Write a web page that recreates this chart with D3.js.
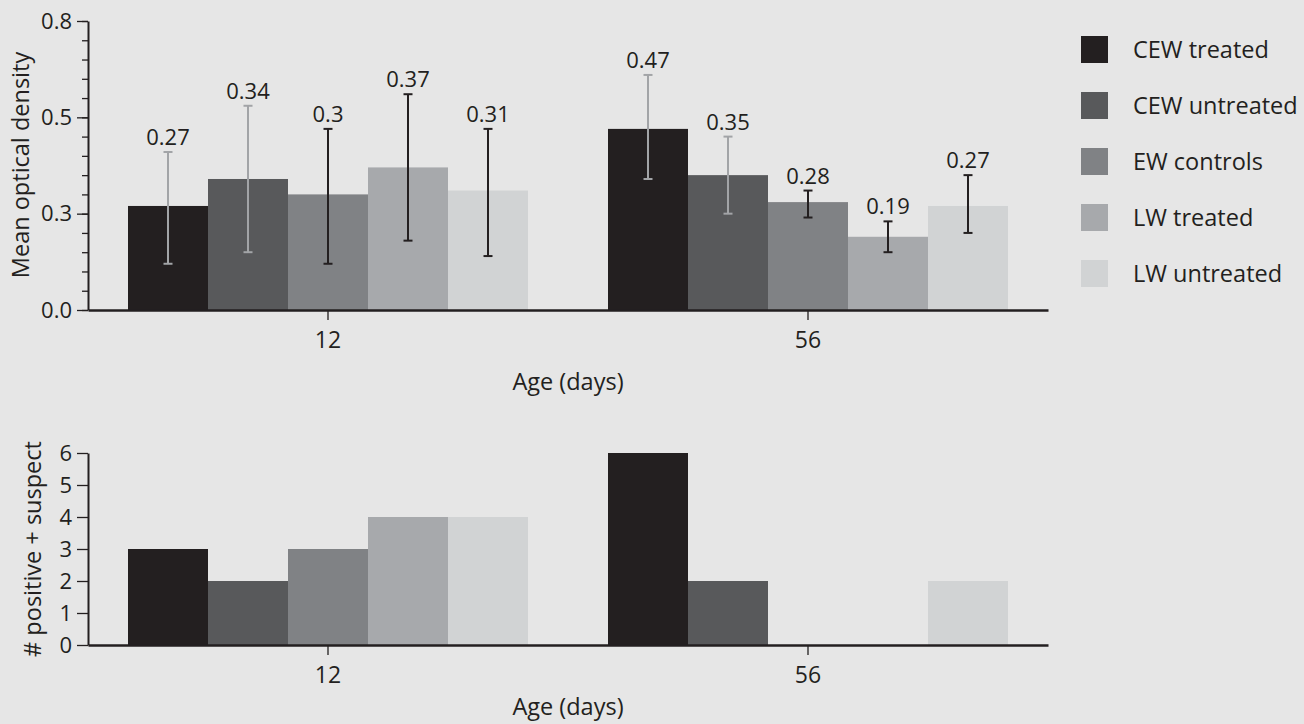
<html>
<head>
	<title>optical density</title>
	<style>
		body { margin: 0; background-color: #e6e6e6; }
		text { font-family: 'Open Sans', sans-serif; fill: #231f20; }
	</style>
</head>
<body>
<div id="dataviz"></div>

<script src="https://cdnjs.cloudflare.com/ajax/libs/d3/7.8.5/d3.min.js"></script>
<script>

	//data
	var ages = ["12", "56"];
	var groups = ["CEW treated", "CEW untreated", "EW controls", "LW treated", "LW untreated"];

	var odMean12 = [0.27, 0.34, 0.30, 0.37, 0.31];
	var odHigh12 = [0.41, 0.53, 0.47, 0.56, 0.47];
	var odLow12  = [0.12, 0.15, 0.12, 0.18, 0.14];

	var odMean56 = [0.47, 0.35, 0.28, 0.19, 0.27];
	var odHigh56 = [0.61, 0.45, 0.31, 0.23, 0.35];
	var odLow56  = [0.34, 0.25, 0.24, 0.15, 0.20];

	var counts12 = [3, 2, 3, 4, 4];
	var counts56 = [6, 2, 0, 0, 2];

	var odTicks = [0, 0.25, 0.5, 0.75];
	var countTicks = [0, 1, 2, 3, 4, 5, 6];

	//display variables
	var width = 1304;
	var height = 724;
	var ink = '#231f20';
	var colors = ['#231f20', '#58595b', '#808285', '#a7a9ac', '#d1d3d4'];
	var errColors = ['#a2a4a7', '#a2a4a7', ink, ink, ink];

	var svg = d3.select('#dataviz')
		.append('svg')
		.attr('width', width)
		.attr('height', height);

	svg.append('rect').attr('width', width).attr('height', height).attr('fill', '#e6e6e6');

	//shared x scales
	var x0 = d3.scaleBand().domain(ages).range([88, 1048]);
	var x1 = d3.scaleBand().domain(groups).range([0, x0.bandwidth()]).paddingOuter(0.5);

	//build rows for the library
	var odRows = [];
	var countRows = [];
	groups.forEach(function(g, i){
		odRows.push({age: "12", group: g, i: i, mean: odMean12[i], hi: odHigh12[i], lo: odLow12[i]});
		odRows.push({age: "56", group: g, i: i, mean: odMean56[i], hi: odHigh56[i], lo: odLow56[i]});
		countRows.push({age: "12", group: g, i: i, n: counts12[i]});
		countRows.push({age: "56", group: g, i: i, n: counts56[i]});
	});

	function bx(d){ return x0(d.age) + x1(d.group); }
	function cx(d){ return bx(d) + x1.bandwidth() / 2; }

	function styleAxis(g, domainWidth, fontSize){
		g.select('.domain').attr('stroke', ink).attr('stroke-width', domainWidth);
		g.selectAll('line').attr('stroke', ink).attr('stroke-width', 1.3);
		g.selectAll('text').attr('font-size', fontSize).attr('font-family', "'Open Sans', sans-serif").attr('fill', ink);
	}

	// ---------- top chart ----------
	var yTop = d3.scaleLinear().domain([0, 0.75]).range([310, 21]);
	var gTop = svg.append('g');

	gTop.selectAll('.bar')
		.data(odRows)
		.enter()
		.append('rect')
		.attr('x', bx)
		.attr('width', x1.bandwidth())
		.attr('y', function(d){ return yTop(d.mean); })
		.attr('height', function(d){ return yTop(0) - yTop(d.mean); })
		.attr('fill', function(d){ return colors[d.i]; });

	//error bars
	var err = gTop.selectAll('.err')
		.data(odRows)
		.enter()
		.append('g')
		.attr('stroke', function(d){ return errColors[d.i]; })
		.attr('stroke-width', 2);
	err.append('line')
		.attr('x1', cx).attr('x2', cx)
		.attr('y1', function(d){ return yTop(d.hi); })
		.attr('y2', function(d){ return yTop(d.lo); });
	err.append('line')
		.attr('x1', function(d){ return cx(d) - 4.5; }).attr('x2', function(d){ return cx(d) + 4.5; })
		.attr('y1', function(d){ return yTop(d.hi); })
		.attr('y2', function(d){ return yTop(d.hi); });
	err.append('line')
		.attr('x1', function(d){ return cx(d) - 4.5; }).attr('x2', function(d){ return cx(d) + 4.5; })
		.attr('y1', function(d){ return yTop(d.lo); })
		.attr('y2', function(d){ return yTop(d.lo); });

	//value labels
	gTop.selectAll('.val')
		.data(odRows)
		.enter()
		.append('text')
		.attr('x', cx)
		.attr('y', function(d){ return yTop(d.hi) - 7; })
		.attr('text-anchor', 'middle')
		.attr('font-size', 22)
		.text(function(d){ return String(d.mean); });

	//y axis with minor ticks
	var minor = d3.range(0, 0.76, 0.05);
	gTop.append('g')
		.attr('transform', 'translate(88,0)')
		.call(d3.axisLeft(yTop).tickValues(minor).tickSize(6).tickFormat(''))
		.call(function(g){ g.select('.domain').remove(); g.selectAll('line').attr('stroke', ink).attr('stroke-width', 1.3); });

	gTop.append('g')
		.attr('transform', 'translate(88,0)')
		.call(d3.axisLeft(yTop).tickValues(odTicks).tickSize(11).tickSizeOuter(0).tickPadding(5).tickFormat(d3.format('.1f')))
		.call(styleAxis, 2, 22);

	//x axis
	gTop.append('g')
		.attr('transform', 'translate(0,310)')
		.call(d3.axisBottom(x0).tickSize(10).tickSizeOuter(0).tickPadding(12))
		.call(styleAxis, 2.5, 23);

	gTop.append('text')
		.attr('x', 568).attr('y', 390)
		.attr('text-anchor', 'middle')
		.attr('font-size', 23.5)
		.text('Age (days)');

	gTop.append('text')
		.attr('transform', 'translate(29,165) rotate(-90)')
		.attr('text-anchor', 'middle')
		.attr('font-size', 23.5)
		.text('Mean optical density');

	// ---------- bottom chart ----------
	var yBot = d3.scaleLinear().domain([0, 6]).range([645, 453]);
	var gBot = svg.append('g');

	gBot.selectAll('.bar')
		.data(countRows)
		.enter()
		.append('rect')
		.attr('x', bx)
		.attr('width', x1.bandwidth())
		.attr('y', function(d){ return yBot(d.n); })
		.attr('height', function(d){ return yBot(0) - yBot(d.n); })
		.attr('fill', function(d){ return colors[d.i]; });

	gBot.append('g')
		.attr('transform', 'translate(88,0)')
		.call(d3.axisLeft(yBot).tickValues(countTicks).tickSize(11).tickSizeOuter(0).tickPadding(5).tickFormat(d3.format('d')))
		.call(styleAxis, 2, 22);

	gBot.append('g')
		.attr('transform', 'translate(0,645)')
		.call(d3.axisBottom(x0).tickSize(10).tickSizeOuter(0).tickPadding(12))
		.call(styleAxis, 2.5, 23);

	gBot.append('text')
		.attr('x', 568).attr('y', 715)
		.attr('text-anchor', 'middle')
		.attr('font-size', 23.5)
		.text('Age (days)');

	gBot.append('text')
		.attr('transform', 'translate(41,549) rotate(-90)')
		.attr('text-anchor', 'middle')
		.attr('font-size', 23.5)
		.text('# positive + suspect');

	// ---------- legend ----------
	var legend = svg.selectAll('.legend')
		.data(groups)
		.enter()
		.append('g')
		.attr('transform', function(d, i){ return 'translate(1081,' + (36 + i * 56) + ')'; });

	legend.append('rect')
		.attr('width', 27).attr('height', 27)
		.attr('fill', function(d, i){ return colors[i]; });

	legend.append('text')
		.attr('x', 52).attr('y', 22)
		.attr('font-size', 23.5)
		.text(function(d){ return d; });

</script>
</body>
</html>
